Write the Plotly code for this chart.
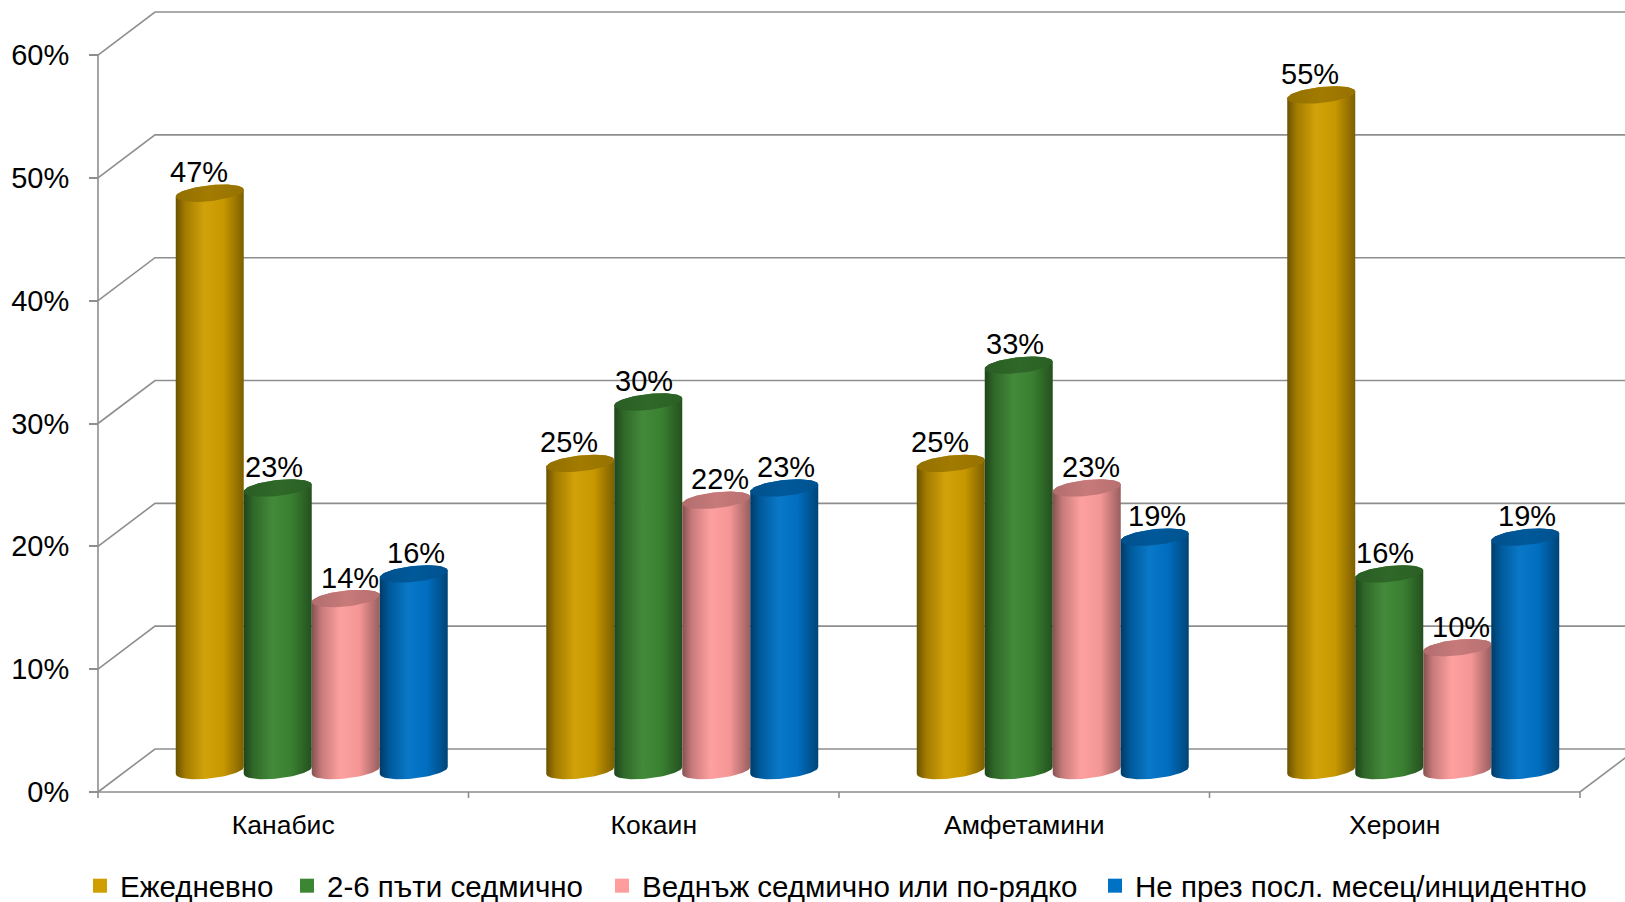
import numpy as np
import plotly.graph_objects as go

# ---- data -------------------------------------------------------------
categories = ["Канабис", "Кокаин", "Амфетамини", "Хероин"]
series_names = [
    "Ежедневно",
    "2-6 пъти седмично",
    "Веднъж седмично или по-рядко",
    "Не през посл. месец/инцидентно",
]
daily = [47, 25, 25, 55]
two_to_six_weekly = [23, 30, 33, 16]
once_weekly_or_less = [14, 22, 23, 10]
not_last_month = [16, 23, 19, 19]
y_tick_values = [0, 10, 20, 30, 40, 50, 60]
y_tick_labels = ["0%", "10%", "20%", "30%", "40%", "50%", "60%"]

series_values = [daily, two_to_six_weekly, once_weekly_or_less, not_last_month]
series_colors = ["#D09E00", "#3C8533", "#FF9C9C", "#0072C6"]
label_xshift = [-11, -4, 4, 2]

# ---- geometry of the pseudo-3D frame ----------------------------------
W, H = 1625, 902
PX_X = 370.5          # pixels per category
PX_Y = 12.283         # pixels per percentage point
ORIGIN_X, ORIGIN_Y = 98, 792
DEPTH_X = 57 / PX_X   # oblique depth offset (category units)
DEPTH_Y = 43 / PX_Y   # oblique depth offset (percent units)
BAR_W = 68 / PX_X
ELL_B = 8 / PX_Y      # half-height of the cylinder caps
ELL_TILT = 3.5 / PX_Y

margin_l = 60
plot_w = W - margin_l
plot_h = 800
x_range = [-(ORIGIN_X - margin_l) / PX_X, (W - ORIGIN_X) / PX_X]
y_range = [-(plot_h - ORIGIN_Y) / PX_Y, ORIGIN_Y / PX_Y]

font_family = "Liberation Sans, Arial, sans-serif"
grid_color = "#8E8E8E"
n_cat = len(categories)


def shade(hex_color, f):
    rgb = [int(hex_color[k:k + 2], 16) for k in (1, 3, 5)]
    if f <= 1:
        out = [round(c * f) for c in rgb]
    else:
        out = [round(c + (255 - c) * (f - 1)) for c in rgb]
    return "rgb({},{},{})".format(*[max(0, min(255, c)) for c in out])


fig = go.Figure()

# ---- walls, floor and axis lines ----------------------------------------
gx, gy = [], []
for v in y_tick_values:
    gx += [0, DEPTH_X, x_range[1], None]
    gy += [v, v + DEPTH_Y, v + DEPTH_Y, None]
gx += [0, n_cat, n_cat + DEPTH_X, None]
gy += [0, 0, DEPTH_Y, None]
gx += [0, 0, None]
gy += [0, y_tick_values[-1], None]
for k in range(n_cat + 1):
    gx += [k, k, None]
    gy += [0, -6 / PX_Y, None]
fig.add_trace(go.Scatter(x=gx, y=gy, mode="lines", hoverinfo="skip",
                         line=dict(color=grid_color, width=1.6),
                         showlegend=False))

# ---- cylinders ---------------------------------------------------------
t_low = np.linspace(np.pi, 2 * np.pi, 41)
t_up = np.linspace(0, np.pi, 41)
t_all = np.linspace(0, 2 * np.pi, 81)
base = DEPTH_Y / 2

annotations = []
for i, cat in enumerate(categories):
    for j, vals in enumerate(series_values):
        v = vals[i]
        cx = i + 0.5 + DEPTH_X / 2 + (j - 1.5) * BAR_W
        a = BAR_W / 2
        top = base + v
        col = series_colors[j]

        bx = np.concatenate([cx + a * np.cos(t_low), cx + a * np.cos(t_up)])
        by = np.concatenate([
            base + ELL_B * np.sin(t_low) + ELL_TILT * np.cos(t_low),
            top + ELL_B * np.sin(t_up) + ELL_TILT * np.cos(t_up),
        ])
        fig.add_trace(go.Scatter(
            x=bx, y=by, mode="lines", fill="toself", line=dict(width=0),
            fillgradient=dict(type="horizontal", colorscale=[
                [0.0, shade(col, 0.52)], [0.14, shade(col, 0.78)],
                [0.42, shade(col, 1.04)], [0.7, shade(col, 0.96)],
                [1.0, shade(col, 0.6)]]),
            hoverinfo="skip", showlegend=False))

        fig.add_trace(go.Scatter(
            x=cx + a * np.cos(t_all),
            y=top + ELL_B * np.sin(t_all) + ELL_TILT * np.cos(t_all),
            mode="lines", fill="toself", line=dict(width=0),
            fillgradient=dict(type="horizontal", colorscale=[
                [0.0, shade(col, 0.7)], [0.5, shade(col, 0.78)],
                [1.0, shade(col, 0.72)]]),
            hoverinfo="skip", showlegend=False))

        annotations.append(dict(
            x=cx, y=top, xref="x", yref="y", text=f"{v}%",
            showarrow=False, yanchor="middle", yshift=21,
            xshift=label_xshift[j],
            font=dict(size=29, color="black", family=font_family)))

# ---- legends -------------------------------------------------------------
legend_marker_px = [100, 307, 622, 1115]
legend_y = (plot_h - 886) / plot_h
legend_layouts = {}
for j, name in enumerate(series_names):
    key = "legend" if j == 0 else f"legend{j + 1}"
    fig.add_trace(go.Scatter(
        x=[None], y=[None], mode="markers", name=name,
        marker=dict(symbol="square", size=14, color=series_colors[j]),
        legend=key, showlegend=True))
    legend_layouts[key] = dict(
        x=(legend_marker_px[j] - 20 - margin_l) / plot_w, xanchor="left",
        y=legend_y, yanchor="middle", orientation="h",
        bgcolor="rgba(0,0,0,0)", borderwidth=0,
        font=dict(size=29.5, color="black", family=font_family))

fig.update_layout(
    width=W, height=H,
    margin=dict(l=margin_l, r=0, t=0, b=H - plot_h, autoexpand=False),
    paper_bgcolor="white", plot_bgcolor="white",
    font=dict(family=font_family, color="black"),
    annotations=annotations,
    xaxis=dict(range=x_range, anchor="free", position=(plot_h - ORIGIN_Y) / plot_h,
               tickvals=[k + 0.5 for k in range(n_cat)], ticktext=categories,
               ticks="", showgrid=False, zeroline=False, showline=False,
               ticklabelstandoff=14,
               tickfont=dict(size=26.5, color="black", family=font_family)),
    yaxis=dict(range=y_range, anchor="free",
               position=(ORIGIN_X - margin_l) / plot_w,
               tickvals=y_tick_values, ticktext=y_tick_labels,
               ticks="outside", ticklen=9, tickwidth=1.6, tickcolor=grid_color,
               showgrid=False, zeroline=False, showline=False,
               ticklabelstandoff=14,
               tickfont=dict(size=29, color="black", family=font_family)),
    **legend_layouts,
)

fig.write_html("out.html")
